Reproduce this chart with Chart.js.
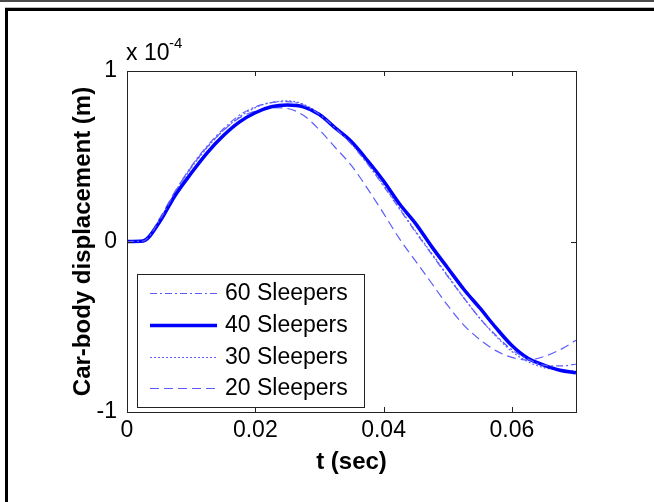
<!DOCTYPE html>
<html>
<head>
<meta charset="utf-8">
<script src="https://cdn.jsdelivr.net/npm/chart.js@4"></script>
<style>
  html, body { margin: 0; padding: 0; background: #fff; overflow: hidden; }
  #c { display: block; }
</style>
</head>
<body>
<canvas id="c" width="654" height="502"></canvas>
<script>
// time axis (s) and displacements in units of 1e-4 m
const tSec = [0, 0.0025, 0.005, 0.0075, 0.01, 0.0125, 0.015, 0.0175, 0.02, 0.0225,
  0.025, 0.0275, 0.03, 0.0325, 0.035, 0.0375, 0.04, 0.0425, 0.045, 0.0475,
  0.05, 0.0525, 0.055, 0.0575, 0.06, 0.0625, 0.065, 0.0675, 0.07];

const sleepers60 = [0, 0.003, 0.12, 0.29, 0.44, 0.56, 0.66, 0.74, 0.79, 0.815,
  0.82, 0.80, 0.745, 0.665, 0.57, 0.455, 0.325, 0.19, 0.055, -0.075,
  -0.205, -0.33, -0.45, -0.55, -0.635, -0.69, -0.725, -0.73, -0.72];
const sleepers40 = [0, 0.003, 0.11, 0.27, 0.40, 0.52, 0.62, 0.70, 0.755, 0.79,
  0.80, 0.79, 0.745, 0.665, 0.585, 0.475, 0.355, 0.22, 0.105, -0.03,
  -0.155, -0.28, -0.39, -0.505, -0.61, -0.685, -0.725, -0.755, -0.77];
const sleepers30 = [0, 0.003, 0.12, 0.285, 0.43, 0.55, 0.65, 0.73, 0.785, 0.815,
  0.825, 0.805, 0.75, 0.67, 0.575, 0.46, 0.33, 0.195, 0.06, -0.07,
  -0.2, -0.33, -0.45, -0.555, -0.645, -0.705, -0.74, -0.755, -0.76];
const sleepers20 = [0, 0.003, 0.13, 0.295, 0.435, 0.555, 0.65, 0.725, 0.765, 0.785,
  0.78, 0.74, 0.655, 0.55, 0.445, 0.31, 0.165, 0.015, -0.115, -0.245,
  -0.375, -0.49, -0.575, -0.64, -0.68, -0.695, -0.675, -0.635, -0.58];

const seriesNames = ['60 Sleepers', '40 Sleepers', '30 Sleepers', '20 Sleepers'];
const xTicks = [0, 0.02, 0.04, 0.06];
const yTicks = [-1, 0, 1];

const blue = '#0000ff';
const thinBlue = '#5c5cff';
const tickFont = '23px "Liberation Sans", Arial, sans-serif';
const boldFont = 'bold 24px "Liberation Sans", Arial, sans-serif';

function pts(vals) {
  return vals.map(function (v, i) { return { x: tSec[i], y: v }; });
}

const styles = [
  { color: thinBlue, borderWidth: 1.2, borderDash: [7, 3, 2, 3] },
  { color: blue, borderWidth: 3.5, borderDash: [] },
  { color: thinBlue, borderWidth: 1.2, borderDash: [2, 2] },
  { color: thinBlue, borderWidth: 1.2, borderDash: [9, 5] }
];
const allSeries = [sleepers60, sleepers40, sleepers30, sleepers20];

let dataObject = [];
for (let i = 0; i < allSeries.length; i++) {
  dataObject.push({
    label: seriesNames[i],
    data: pts(allSeries[i]),
    borderColor: styles[i].color,
    borderWidth: styles[i].borderWidth,
    borderDash: styles[i].borderDash,
    pointRadius: 0,
    fill: false,
    cubicInterpolationMode: 'monotone'
  });
}

// page frame behind the chart
const frame = {
  id: 'frame',
  beforeDraw: function (chart) {
    const ctx = chart.ctx;
    ctx.save();
    ctx.fillStyle = '#fff';
    ctx.fillRect(0, 0, chart.width, chart.height);
    ctx.fillStyle = '#4a4a4a';
    ctx.fillRect(0, 0, chart.width, 2);
    ctx.fillStyle = '#bbb';
    ctx.fillRect(5, 7, chart.width - 5, 1);
    ctx.fillStyle = '#000';
    ctx.fillRect(5, 8, chart.width - 5, 3);
    ctx.fillRect(5, 8, 3, chart.height - 8);
    ctx.restore();
  }
};

// MATLAB-like box, inward ticks, titles and boxed legend
const decor = {
  id: 'decor',
  afterDraw: function (chart) {
    const ctx = chart.ctx;
    const a = chart.chartArea;
    const xs = chart.scales.x, ys = chart.scales.y;
    ctx.save();
    ctx.strokeStyle = '#222';
    ctx.lineWidth = 1;
    ctx.setLineDash([]);
    ctx.strokeRect(Math.round(a.left) + 0.5, Math.round(a.top) + 0.5,
      Math.round(a.right - a.left), Math.round(a.bottom - a.top));
    ctx.beginPath();
    xTicks.forEach(function (v) {
      const px = Math.round(xs.getPixelForValue(v)) + 0.5;
      ctx.moveTo(px, a.bottom); ctx.lineTo(px, a.bottom - 5);
      ctx.moveTo(px, a.top); ctx.lineTo(px, a.top + 5);
    });
    yTicks.forEach(function (v) {
      const py = Math.round(ys.getPixelForValue(v)) + 0.5;
      ctx.moveTo(a.left, py); ctx.lineTo(a.left + 5, py);
      ctx.moveTo(a.right, py); ctx.lineTo(a.right - 5, py);
    });
    ctx.stroke();

    // exponent
    ctx.fillStyle = '#000';
    ctx.font = tickFont;
    ctx.textAlign = 'left';
    ctx.textBaseline = 'alphabetic';
    ctx.fillText('x 10', 126, 60);
    ctx.font = '15px "Liberation Sans", Arial, sans-serif';
    ctx.fillText('-4', 169, 48);

    // axis titles
    ctx.font = boldFont;
    ctx.textAlign = 'center';
    ctx.textBaseline = 'middle';
    ctx.fillText('t (sec)', (a.left + a.right) / 2, 462);
    ctx.save();
    ctx.translate(83, (a.top + a.bottom) / 2);
    ctx.rotate(-Math.PI / 2);
    ctx.fillText('Car-body displacement (m)', 0, 0);
    ctx.restore();

    // legend
    const lx = 137, ly = 274, lw = 227, lh = 133;
    ctx.fillStyle = '#fff';
    ctx.fillRect(lx, ly, lw, lh);
    ctx.strokeStyle = '#222';
    ctx.lineWidth = 1;
    ctx.strokeRect(lx + 0.5, ly + 0.5, lw, lh);
    const rows = [293, 325, 357, 388];
    chart.data.datasets.forEach(function (ds, i) {
      ctx.strokeStyle = ds.borderColor;
      ctx.lineWidth = ds.borderWidth;
      ctx.setLineDash(ds.borderDash);
      ctx.beginPath();
      ctx.moveTo(150, rows[i] + 0.5);
      ctx.lineTo(217, rows[i] + 0.5);
      ctx.stroke();
      ctx.setLineDash([]);
      ctx.fillStyle = '#000';
      ctx.font = tickFont;
      ctx.textAlign = 'left';
      ctx.textBaseline = 'middle';
      ctx.fillText(ds.label, 225, rows[i] + 1);
    });
    ctx.restore();
  }
};

const config = {
  type: 'line',
  data: { datasets: dataObject },
  options: {
    responsive: false,
    animation: false,
    layout: { padding: { left: 0, top: 71, right: 78, bottom: 0 } },
    plugins: { legend: { display: false }, tooltip: { enabled: false } },
    scales: {
      x: {
        type: 'linear', min: 0, max: 0.07,
        grid: { display: false, drawTicks: false, tickLength: 0 }, border: { display: false },
        afterBuildTicks: function (s) { s.ticks = xTicks.map(function (v) { return { value: v }; }); },
        afterFit: function (s) { s.height = 90; },
        ticks: { color: '#000', padding: 5, maxRotation: 0, font: { family: '"Liberation Sans", Arial, sans-serif', size: 23 },
          callback: function (v) { return String(v); } }
      },
      y: {
        type: 'linear', min: -1, max: 1,
        grid: { display: false, drawTicks: false, tickLength: 0 }, border: { display: false },
        afterBuildTicks: function (s) { s.ticks = yTicks.map(function (v) { return { value: v }; }); },
        afterFit: function (s) { s.width = 127; },
        ticks: { color: '#000', padding: 10, font: { family: '"Liberation Sans", Arial, sans-serif', size: 23 },
          callback: function (v) { return String(v); } }
      }
    }
  },
  plugins: [frame, decor]
};

var myChart = new Chart(document.getElementById('c'), config);
</script>
</body>
</html>
